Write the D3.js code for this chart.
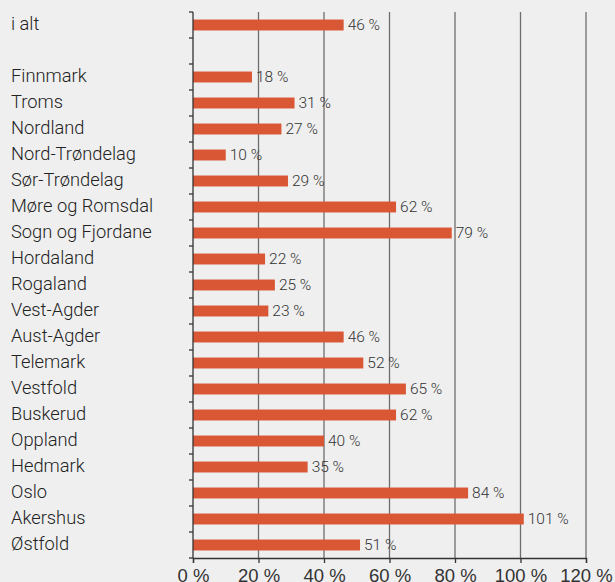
<!DOCTYPE html>
<html>
<head>
<meta charset="utf-8">
<script src="https://cdn.jsdelivr.net/npm/d3@7"></script>
<style>
  body { margin: 0; background: #efefef; }
  svg { display: block; font-family: Roboto, sans-serif; }
  .cat-label { font-size: 18.3px; font-weight: 300; fill: #222; }
  .value-label { font-size: 15.5px; font-weight: 300; fill: #333; }
  .x-label { font-size: 18.5px; font-weight: 300; fill: #333; }
</style>
</head>
<body>
<div id="wrapper"></div>
<script>
// categories top to bottom, "" is the empty gap row
const categories = ["i alt", "", "Finnmark", "Troms", "Nordland", "Nord-Trøndelag",
  "Sør-Trøndelag", "Møre og Romsdal", "Sogn og Fjordane", "Hordaland", "Rogaland",
  "Vest-Agder", "Aust-Agder", "Telemark", "Vestfold", "Buskerud", "Oppland",
  "Hedmark", "Oslo", "Akershus", "Østfold"]
const values = [46, null, 18, 31, 27, 10, 29, 62, 79, 22, 25, 23, 46, 52, 65, 62,
  40, 35, 84, 101, 51]
const xTicks = [0, 20, 40, 60, 80, 100, 120]

function drawChart() {
  const dimensions = {
    width: 615,
    height: 582,
    margin: { top: 12, right: 29, bottom: 24, left: 193 }
  }
  dimensions.boundedWidth = dimensions.width - dimensions.margin.left - dimensions.margin.right
  dimensions.boundedHeight = dimensions.height - dimensions.margin.top - dimensions.margin.bottom

  const data = categories.map((c, i) => ({ key: i, name: c, value: values[i] }))

  const xScale = d3.scaleLinear()
    .domain([0, 120])
    .range([0, dimensions.boundedWidth])

  const yScale = d3.scaleBand()
    .domain(data.map(d => d.key))
    .range([0, dimensions.boundedHeight])
    .paddingInner(0.58)
    .paddingOuter(0.29)

  const wrapper = d3.select("#wrapper")
    .append("svg")
      .attr("width", dimensions.width)
      .attr("height", dimensions.height)

  wrapper.append("rect")
      .attr("width", dimensions.width)
      .attr("height", dimensions.height)
      .attr("fill", "#efefef")

  const bounds = wrapper.append("g")
      .attr("transform", `translate(${dimensions.margin.left},${dimensions.margin.top})`)

  // vertical gridlines
  bounds.selectAll(".grid")
    .data(xTicks.slice(1))
    .join("line")
      .attr("x1", d => xScale(d))
      .attr("x2", d => xScale(d))
      .attr("y1", 0)
      .attr("y2", dimensions.boundedHeight)
      .attr("stroke", "#6e6e6e")
      .attr("stroke-width", 1.3)

  // bars
  const rows = data.filter(d => d.value != null)
  bounds.selectAll(".bar")
    .data(rows)
    .join("rect")
      .attr("x", 0)
      .attr("y", d => yScale(d.key))
      .attr("width", d => xScale(d.value))
      .attr("height", yScale.bandwidth())
      .attr("fill", "#d95734")

  // value labels
  bounds.selectAll(".value-label")
    .data(rows)
    .join("text")
      .attr("class", "value-label")
      .attr("x", d => xScale(d.value) + 4)
      .attr("y", d => yScale(d.key) + yScale.bandwidth() / 2)
      .attr("dy", "0.33em")
      .text(d => `${d.value} %`)

  // category labels
  wrapper.selectAll(".cat-label")
    .data(data.filter(d => d.name))
    .join("text")
      .attr("class", "cat-label")
      .attr("x", 11)
      .attr("y", d => dimensions.margin.top + yScale(d.key) + yScale.bandwidth() / 2)
      .attr("dy", "0.28em")
      .text(d => d.name)

  // left axis with ticks at row boundaries
  const yTickPos = d3.range(categories.length + 1).map(i => i * dimensions.boundedHeight / categories.length)
  bounds.append("line")
      .attr("x1", 0).attr("x2", 0)
      .attr("y1", 0).attr("y2", dimensions.boundedHeight)
      .attr("stroke", "#333").attr("stroke-width", 1.3)
  bounds.selectAll(".ytick")
    .data(yTickPos)
    .join("line")
      .attr("x1", -4).attr("x2", 0)
      .attr("y1", d => d).attr("y2", d => d)
      .attr("stroke", "#333").attr("stroke-width", 1.3)

  // bottom axis
  const xAxisGenerator = d3.axisBottom(xScale)
    .tickValues(xTicks)
    .tickSize(5)
    .tickPadding(6)
    .tickFormat(d => `${d} %`)

  const xAxis = bounds.append("g")
      .attr("transform", `translate(0,${dimensions.boundedHeight})`)
      .call(xAxisGenerator)
  xAxis.select(".domain").attr("stroke", "#333").attr("stroke-width", 1.3)
  xAxis.selectAll(".tick line").attr("stroke", "#333").attr("stroke-width", 1.3)
  xAxis.selectAll(".tick text")
      .attr("class", "x-label")
      .attr("font-family", null)
      .attr("font-size", null)
      .attr("fill", null)
}
drawChart()
</script>
</body>
</html>
